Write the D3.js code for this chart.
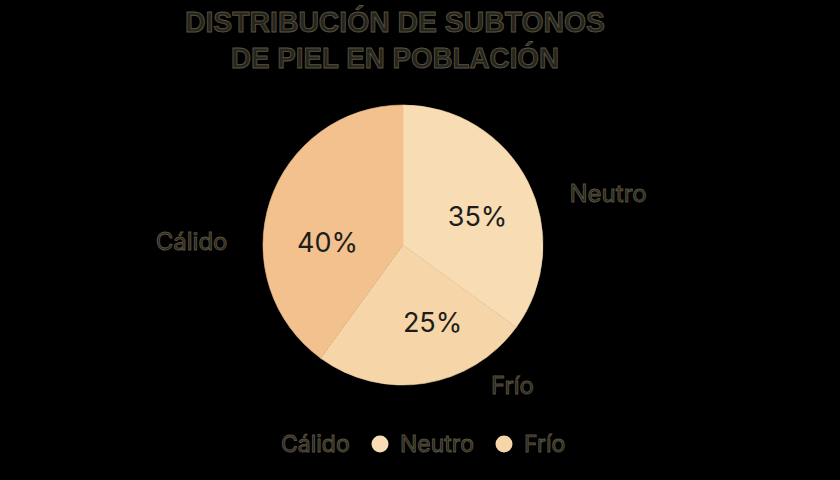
<!DOCTYPE html>
<html><head><meta charset="utf-8">
<script src="https://cdn.jsdelivr.net/npm/d3@7/dist/d3.min.js"></script>
<style>html,body{margin:0;padding:0;background:#000;}svg{display:block;}</style>
</head><body>
<svg id="chart" width="840" height="480"></svg>
<script>
const categories = ["Neutro", "Frío", "Cálido"];
const values = [35, 25, 40];
const colors = ["#F8DCB4", "#F6D6A8", "#F2C18E"];
const legendLabels = ["Cálido", "Neutro", "Frío"];
const titleLines = ["DISTRIBUCIÓN DE SUBTONOS", "DE PIEL EN POBLACIÓN"];

const W = 840, H = 480, cx = 403, cy = 245, R = 140;
const svg = d3.select("#chart");
svg.append("rect").attr("width", W).attr("height", H).attr("fill", "#000");

const dimText = sel => sel.attr("fill", "#25241d").attr("stroke", "#58533f").attr("stroke-width", 0.9);

const titleWidths = [420, 328];
svg.selectAll(".title").data(titleLines).enter().append("text")
  .attr("x", 395).attr("y", (d, i) => 32 + i * 36)
  .attr("text-anchor", "middle")
  .attr("textLength", (d, i) => titleWidths[i]).attr("lengthAdjust", "spacingAndGlyphs")
  .style("font-family", "Liberation Sans, Arial, sans-serif")
  .style("font-weight", "bold").style("font-size", "29px")
  .text(d => d).call(dimText);

const pie = d3.pie().sort(null).value(d => d.v);
const data = categories.map((c, i) => ({c, v: values[i], col: colors[i]}));
const arcs = pie(data);
const arc = d3.arc().innerRadius(0).outerRadius(R);
const g = svg.append("g").attr("transform", `translate(${cx},${cy})`);
g.selectAll("path").data(arcs).enter().append("path")
  .attr("d", arc).attr("fill", d => d.data.col)
  .attr("stroke", d => d.data.col).attr("stroke-width", 0.6);

// label layout (angle offset deg from slice mid, radius factor)
const innerLayout = {"Neutro": [6, 0.57], "Frío": [-12, 0.59], "Cálido": [-16, 0.54]};
const outerLayout = {"Neutro": [13, 1.51], "Frío": [-29, 1.27], "Cálido": [-17, 1.51]};
const polar = (a, r) => [Math.sin(a) * r, -Math.cos(a) * r];

g.selectAll(".pct").data(arcs).enter().append("text")
  .attr("transform", d => {
    const [off, f] = innerLayout[d.data.c];
    const a = (d.startAngle + d.endAngle) / 2 + off * Math.PI / 180;
    return `translate(${polar(a, R * f)})`;
  })
  .attr("text-anchor", "middle").attr("dominant-baseline", "central")
  .style("font-family", "Inter, Liberation Sans, sans-serif").style("font-size", "27px")
  .attr("fill", "#1e1d1a")
  .text(d => d.data.v + "%");

g.selectAll(".lab").data(arcs).enter().append("text")
  .attr("transform", d => {
    const [off, f] = outerLayout[d.data.c];
    const a = (d.startAngle + d.endAngle) / 2 + off * Math.PI / 180;
    return `translate(${polar(a, R * f)})`;
  })
  .attr("text-anchor", "middle").attr("dominant-baseline", "central")
  .style("font-family", "Inter, Liberation Sans, sans-serif").style("font-size", "24px")
  .text(d => d.data.c).call(dimText);

// legend
const colorOf = c => colors[categories.indexOf(c)];
const legendX = [281, 400, 524];
const lg = svg.append("g");
legendLabels.forEach((l, i) => {
  if (i > 0) {
    lg.append("circle").attr("cx", legendX[i] - 20).attr("cy", 444).attr("r", 8.5)
      .attr("fill", colorOf(l));
  }
  lg.append("text").attr("x", legendX[i]).attr("y", 444)
    .attr("dominant-baseline", "central")
    .style("font-family", "Inter, Liberation Sans, sans-serif").style("font-size", "23px")
    .text(l).call(dimText);
});
</script>
</body></html>
